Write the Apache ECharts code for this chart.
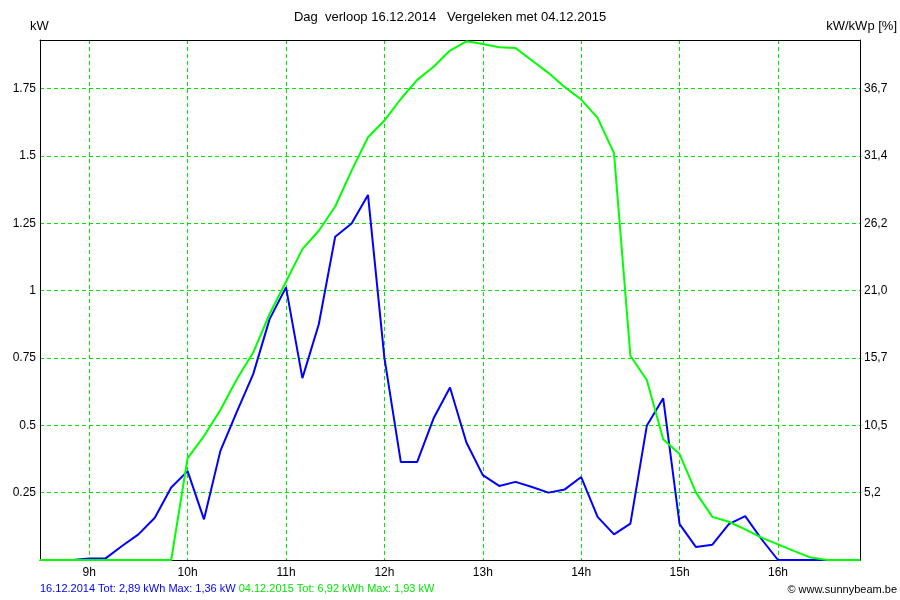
<!DOCTYPE html>
<html>
<head>
<meta charset="utf-8">
<title>Dag verloop</title>
<script src="https://cdn.jsdelivr.net/npm/echarts@6/dist/echarts.min.js"></script>
<style>
  html, body { margin: 0; padding: 0; background: #fff; }
  #main { width: 900px; height: 600px; }
</style>
</head>
<body>
<div id="main"></div>
<script>
// tijdstippen om de 10 minuten, 8:30 .. 16:50
var times = ['8:30','8:40','8:50','9:00','9:10','9:20','9:30','9:40','9:50',
    '10:00','10:10','10:20','10:30','10:40','10:50',
    '11:00','11:10','11:20','11:30','11:40','11:50',
    '12:00','12:10','12:20','12:30','12:40','12:50',
    '13:00','13:10','13:20','13:30','13:40','13:50',
    '14:00','14:10','14:20','14:30','14:40','14:50',
    '15:00','15:10','15:20','15:30','15:40','15:50',
    '16:00','16:10','16:20','16:30','16:40','16:50'];

// 16.12.2014 (blauw), kW
var day2014 = [null, null, 0, 0.006, 0.006, 0.052, 0.095, 0.157, 0.269,
    0.33, 0.151, 0.405, 0.55, 0.69, 0.894,
    1.012, 0.675, 0.875, 1.2, 1.249, 1.355,
    0.75, 0.364, 0.364, 0.526, 0.64, 0.436,
    0.315, 0.275, 0.29, 0.271, 0.25, 0.262,
    0.308, 0.16, 0.095, 0.135, 0.498, 0.6,
    0.133, 0.048, 0.057, 0.133, 0.163, 0.077,
    0, 0, 0, 0, null, null];

// 04.12.2015 (groen), kW
var day2015 = [0, 0, 0, 0, 0, 0, 0, 0, 0,
    0.378, 0.46, 0.557, 0.671, 0.77, 0.913,
    1.033, 1.154, 1.222, 1.312, 1.445, 1.569,
    1.631, 1.711, 1.782, 1.831, 1.891, 1.925,
    1.915, 1.903, 1.9, 1.854, 1.808, 1.755,
    1.709, 1.641, 1.51, 0.758, 0.668, 0.448,
    0.393, 0.25, 0.16, 0.142, 0.114, 0.083,
    0.058, 0.033, 0.009, 0, 0, 0];

var kwMax = 1.93;      // top van de as
var kwStep = 0.25;     // stap linkse as
var pctPerKw = 20.96;  // kW -> kW/kWp [%]

var titleText = 'Dag  verloop 16.12.2014   Vergeleken met 04.12.2015';
var info2014 = '16.12.2014 Tot: 2,89 kWh Max: 1,36 kW';
var info2015 = '04.12.2015 Tot: 6,92 kWh Max: 1,93 kW';

var gridGreen = '#00e600';
var fontName = '"Liberation Sans", Arial, sans-serif';

function isHour(index, value) {
    return /:00$/.test(value);
}

function onStep(v, step) {
    var r = v / step;
    return v > 0 && Math.abs(r - Math.round(r)) < 1e-6;
}

var myChart = echarts.init(document.getElementById('main'));

var option = {
    animation: false,
    backgroundColor: '#fff',
    grid: { left: 40, right: 40, top: 40, bottom: 40, containLabel: false },
    xAxis: [
        {
            type: 'category',
            data: times,
            boundaryGap: false,
            axisLine: { onZero: false, lineStyle: { color: '#000', width: 1 } },
            axisTick: { show: false },
            axisLabel: {
                interval: isHour,
                formatter: function (v) { return parseInt(v, 10) + 'h'; },
                color: '#000', fontSize: 12, fontFamily: fontName, margin: 7
            },
            splitLine: {
                show: true,
                interval: isHour,
                lineStyle: { color: gridGreen, type: [4, 3], width: 1 }
            }
        },
        {
            // bovenrand van het kader
            type: 'category',
            data: times,
            position: 'top',
            boundaryGap: false,
            axisLine: { show: true, onZero: false, lineStyle: { color: '#000', width: 1 } },
            axisTick: { show: false },
            axisLabel: { show: false },
            splitLine: { show: false }
        }
    ],
    yAxis: [
        {
            type: 'value',
            min: 0,
            max: kwMax,
            interval: kwStep,
            axisLine: { show: true, lineStyle: { color: '#000', width: 1 } },
            axisTick: { show: false },
            axisLabel: {
                formatter: function (v) { return onStep(v, kwStep) ? String(v) : ''; },
                color: '#000', fontSize: 12, fontFamily: fontName, margin: 4
            },
            splitLine: {
                show: true,
                showMinLine: false,
                showMaxLine: false,
                lineStyle: { color: gridGreen, type: [4, 3], width: 1 }
            }
        },
        {
            type: 'value',
            position: 'right',
            min: 0,
            max: kwMax * pctPerKw,
            interval: kwStep * pctPerKw,
            axisLine: { show: true, lineStyle: { color: '#000', width: 1 } },
            axisTick: { show: false },
            axisLabel: {
                formatter: function (v) {
                    return onStep(v, kwStep * pctPerKw) ? v.toFixed(1).replace('.', ',') : '';
                },
                color: '#000', fontSize: 12, fontFamily: fontName, margin: 4
            },
            splitLine: { show: false }
        }
    ],
    series: [
        {
            name: '16.12.2014',
            type: 'line',
            data: day2014,
            symbol: 'none',
            connectNulls: false,
            lineStyle: { color: '#0000ff', width: 2 },
            z: 3
        },
        {
            name: '04.12.2015',
            type: 'line',
            data: day2015,
            symbol: 'none',
            lineStyle: { color: '#00ff00', width: 2 },
            z: 4
        }
    ],
    graphic: [
        {
            type: 'text', left: 'center', top: 11,
            style: { text: titleText, font: '13px ' + fontName, fill: '#000' }
        },
        {
            type: 'text', left: 30, top: 20,
            style: { text: 'kW', font: '13px ' + fontName, fill: '#000' }
        },
        {
            type: 'text', right: 3, top: 20,
            style: { text: 'kW/kWp [%]', font: '13px ' + fontName, fill: '#000' }
        },
        {
            type: 'text', left: 40, top: 583,
            style: {
                text: '{b|' + info2014 + '} {g|' + info2015 + '}',
                font: '11px ' + fontName,
                rich: {
                    b: { fill: '#0000ff', font: '11px ' + fontName },
                    g: { fill: '#00e600', font: '11px ' + fontName }
                }
            }
        },
        {
            type: 'text', right: 3, top: 584,
            style: { text: '\u00a9 www.sunnybeam.be', font: '11px ' + fontName, fill: '#000' }
        }
    ]
};

myChart.setOption(option);
</script>
</body>
</html>
